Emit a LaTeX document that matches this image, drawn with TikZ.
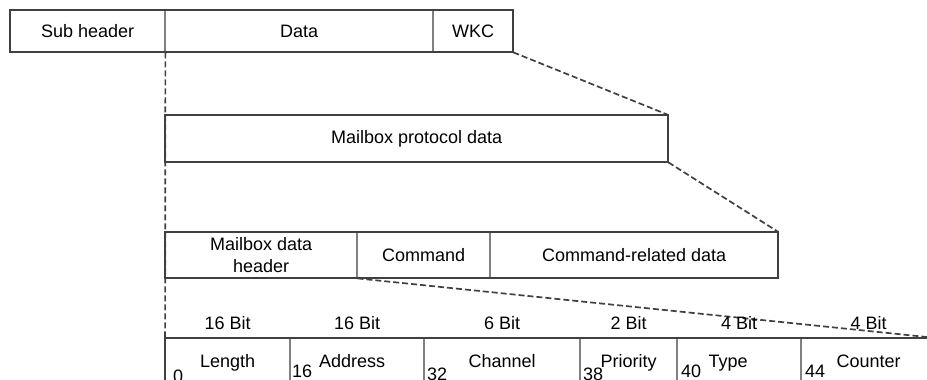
\documentclass[tikz,border=0pt]{standalone}
\usepackage{fontspec}
\setmainfont{Liberation Sans}
\begin{document}
\begin{tikzpicture}[x=1pt,y=-1pt,
  box/.style={rectangle, inner sep=0pt, anchor=north west, font=\fontsize{18}{22}\selectfont, align=center},
  frame/.style={draw=black!75, line width=2pt},
  divider/.style={draw=black!50, line width=2pt},
  link/.style={draw=black!75, line width=1.7pt, dash pattern=on 6pt off 3pt},
  lbl/.style={font=\fontsize{18}{22}\selectfont, inner sep=0pt, anchor=base},
  num/.style={font=\fontsize{18}{22}\selectfont, inner sep=0pt, anchor=base west}]
\useasboundingbox (0,0) rectangle (927,380);
\clip (0,0) rectangle (927,380);
% row 1
\node[box, minimum width=155pt, minimum height=42pt] (sub) at (10,10) {Sub header};
\node[box, minimum width=268pt, minimum height=42pt] (data) at (165,10) {Data};
\node[box, minimum width=80pt, minimum height=42pt] (wkc) at (433,10) {WKC};
% row 2
\node[box, minimum width=503pt, minimum height=47pt] (mpd) at (165,115) {Mailbox protocol data};
% row 3
\node[box, minimum width=192pt, minimum height=46pt] (mdh) at (165,232) {Mailbox data\\header};
\node[box, minimum width=133pt, minimum height=46pt] (cmd) at (357,232) {Command};
\node[box, minimum width=288pt, minimum height=46pt] (crd) at (490,232) {Command-related data};
% table cells
\node[box, minimum width=125pt, minimum height=80pt] (c0) at (165,338) {};
\node[box, minimum width=134pt, minimum height=80pt] (c1) at (290,338) {};
\node[box, minimum width=156pt, minimum height=80pt] (c2) at (424,338) {};
\node[box, minimum width=97pt, minimum height=80pt] (c3) at (580,338) {};
\node[box, minimum width=124pt, minimum height=80pt] (c4) at (677,338) {};
\node[box, minimum width=135pt, minimum height=80pt] (c5) at (801,338) {};
\coordinate (vend) at (165,420);
% dashed links
\draw[link] (sub.south east) -- (vend);
\draw[link] (wkc.south east) -- (mpd.north east);
\draw[link] (mpd.south east) -- (crd.north east);
\draw[link] (mdh.south east) -- (c5.north east);
% row 1 lines
\draw[divider] (data.north west) -- (data.south west);
\draw[divider] (wkc.north west) -- (wkc.south west);
\draw[frame] (sub.north west) rectangle (wkc.south east);
% row 2
\draw[frame] (mpd.north west) rectangle (mpd.south east);
% row 3
\draw[divider] (cmd.north west) -- (cmd.south west);
\draw[divider] (crd.north west) -- (crd.south west);
\draw[frame] (mdh.north west) rectangle (crd.south east);
% table
\foreach \c in {c1,c2,c3,c4,c5} \draw[divider] (\c.north west) -- (\c.south west);
\draw[frame] (c0.south west) -- (c0.north west) -- (c5.north east);
% bit labels
\node[lbl] (b0) at ([yshift=9pt]c0.north) {16 Bit};
\node[lbl] (b1) at ([yshift=9pt]c1.north) {16 Bit};
\node[lbl] (b2) at ([yshift=9pt]c2.north) {6 Bit};
\node[lbl] (b3) at ([yshift=9pt]c3.north) {2 Bit};
\node[lbl] (b4) at ([yshift=9pt]c4.north) {4 Bit};
\node[lbl] (b5) at ([yshift=9pt]c5.north) {4 Bit};
% field names
\node[lbl] (f0) at ([yshift=-29pt]c0.north) {Length};
\node[lbl] (f1) at ([xshift=-5pt,yshift=-29pt]c1.north) {Address};
\node[lbl] (f2) at ([yshift=-29pt]c2.north) {Channel};
\node[lbl] (f3) at ([yshift=-29pt]c3.north) {Priority};
\node[lbl] (f4) at ([xshift=-11pt,yshift=-29pt]c4.north) {Type};
\node[lbl] (f5) at ([yshift=-29pt]c5.north) {Counter};
% offsets
\node[num] (n0) at ([xshift=8pt,yshift=-44pt]c0.north west) {0};
\node[num] (n1) at ([xshift=2pt,yshift=-39pt]c1.north west) {16};
\node[num] (n2) at ([xshift=3pt,yshift=-42pt]c2.north west) {32};
\node[num] (n3) at ([xshift=3pt,yshift=-42pt]c3.north west) {38};
\node[num] (n4) at ([xshift=4pt,yshift=-39pt]c4.north west) {40};
\node[num] (n5) at ([xshift=4pt,yshift=-39pt]c5.north west) {44};
\end{tikzpicture}
\end{document}
